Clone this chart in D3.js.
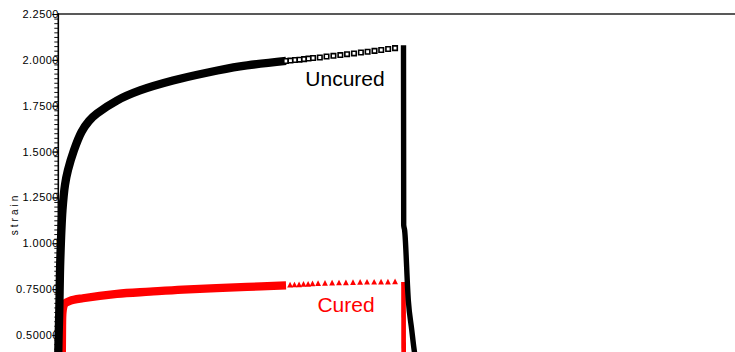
<!DOCTYPE html>
<html>
<head>
<meta charset="utf-8">
<script src="https://cdn.jsdelivr.net/npm/d3@7"></script>
<style>
  html, body { margin: 0; padding: 0; background: #fff; }
  svg { display: block; }
</style>
</head>
<body>
<svg id="chart" width="735" height="352"></svg>
<script>
// ---- strain axis ----
const strainTicks = [0.5, 0.75, 1.0, 1.25, 1.5, 1.75, 2.0, 2.25];
const strainTickLabels = ["0.50000", "0.75000", "1.0000", "1.2500", "1.5000", "1.7500", "2.0000", "2.2500"];
const strainLabel = "strain";

// ---- Uncured sample (time in s, strain) ----
// densely sampled creep, drawn as a solid band
const uncuredBandTime   = [0, 1.6, 6.8, 12, 23.4, 36.5, 52, 83.4, 122.4, 161.5, 203, 307, 427, 599, 781, 948, 1188];
const uncuredBandStrain = [0.05, 0.407, 0.636, 0.909, 1.181, 1.318, 1.399, 1.508, 1.607, 1.667, 1.707, 1.778, 1.833, 1.887, 1.931, 1.964, 1.994];
// sparser samples late in the creep step, drawn as open squares
const uncuredMarkTime   = [1188, 1211, 1235, 1258, 1282, 1305, 1329, 1364, 1399, 1435, 1471, 1506, 1542, 1578, 1613, 1649, 1684, 1720, 1756];
const uncuredMarkStrain = [1.994, 1.996, 1.999, 2.001, 2.004, 2.007, 2.010, 2.013, 2.018, 2.022, 2.026, 2.031, 2.035, 2.040, 2.044, 2.049, 2.054, 2.059, 2.064];
// unloading and recovery
const uncuredRecTime   = [1800, 1801, 1806, 1825, 1843, 1857, 1880];
const uncuredRecStrain = [2.080, 1.100, 1.070, 0.690, 0.527, 0.407, 0.300];

// ---- Cured sample ----
const curedBandTime   = [19, 20, 21, 23, 28, 36, 62, 130, 307, 480, 651, 985, 1188];
const curedBandStrain = [0.05, 0.407, 0.55, 0.62, 0.655, 0.672, 0.686, 0.700, 0.724, 0.736, 0.747, 0.762, 0.770];
const curedMarkTime   = [1209, 1232, 1256, 1279, 1303, 1326, 1355, 1391, 1428, 1464, 1500, 1537, 1574, 1610, 1647, 1683, 1719, 1756];
const curedMarkStrain = [0.771, 0.772, 0.773, 0.775, 0.776, 0.778, 0.780, 0.781, 0.782, 0.783, 0.784, 0.785, 0.786, 0.787, 0.787, 0.788, 0.788, 0.789];
const curedRecTime   = [1800, 1801];
const curedRecStrain = [0.789, 0.300];

const seriesNames = ["Uncured", "Cured"];
const seriesColors = ["#000000", "#ff0000"];

// ---- layout ----
const W = 735, H = 352;
const svg = d3.select("#chart");

const x = d3.scaleLinear().domain([0, 3600]).range([58, 749]);
const y = d3.scaleLinear().domain([0.407, 2.25]).range([352, 14]);

const zip = (t, s) => t.map((d, i) => [d, s[i]]);

svg.append("defs").append("clipPath").attr("id", "plot")
  .append("rect").attr("x", 0).attr("y", 14).attr("width", W).attr("height", H - 14);

// frame top edge
svg.append("line")
  .attr("x1", 58).attr("x2", W).attr("y1", 14).attr("y2", 14)
  .attr("stroke", "#222").attr("stroke-width", 1.4);

// minor ticks
const minor = d3.range(0.425, 2.2501, 0.025);
svg.append("g")
  .attr("transform", "translate(58.3,0)")
  .call(d3.axisLeft(y).tickValues(minor).tickSize(4).tickFormat(""))
  .call(g => g.select(".domain").remove())
  .call(g => g.selectAll(".tick line").attr("stroke", "#111").attr("stroke-width", 1));

// major ticks and labels
const yAxis = svg.append("g")
  .attr("transform", "translate(58.3,0)")
  .call(d3.axisLeft(y).tickValues(strainTicks).tickSize(6).tickPadding(-6.6)
    .tickFormat((d, i) => strainTickLabels[i]));
yAxis.selectAll(".tick line").attr("stroke", "#000").attr("stroke-width", 1);
yAxis.selectAll(".tick text")
  .attr("fill", "#000")
  .style("font-family", "'Liberation Sans', Arial, sans-serif")
  .style("font-size", "11px")
  .style("letter-spacing", "0.45px");
yAxis.select(".domain").remove();

svg.append("text")
  .attr("transform", "translate(18,214) rotate(-90)")
  .attr("text-anchor", "middle")
  .style("font-family", "'Liberation Sans', Arial, sans-serif")
  .style("font-size", "10px")
  .style("letter-spacing", "3px")
  .text(strainLabel);

// ---- curves ----
const plot = svg.append("g").attr("clip-path", "url(#plot)");
const smooth = d3.line().x(d => x(d[0])).y(d => y(d[1])).curve(d3.curveCatmullRom.alpha(0.5));
const mono = d3.line().x(d => x(d[0])).y(d => y(d[1])).curve(d3.curveMonotoneX);
const straight = d3.line().x(d => x(d[0])).y(d => y(d[1]));

// cured (drawn first, uncured sits on top)
plot.append("path").datum(zip(curedBandTime, curedBandStrain))
  .attr("d", smooth).attr("fill", "none").attr("stroke", seriesColors[1])
  .attr("stroke-width", 8.3).attr("stroke-linejoin", "round");
plot.append("path").datum(zip(curedRecTime, curedRecStrain))
  .attr("d", straight).attr("fill", "none").attr("stroke", seriesColors[1]).attr("stroke-width", 4.7);
const tri = "M0,-3.4L2.9,2.3L-2.9,2.3Z";
plot.selectAll("path.tri").data(zip(curedMarkTime, curedMarkStrain)).join("path")
  .attr("class", "tri")
  .attr("transform", d => `translate(${x(d[0])},${y(d[1])})`)
  .attr("d", tri).attr("fill", seriesColors[1]);

// uncured
plot.append("path").datum(zip(uncuredBandTime, uncuredBandStrain))
  .attr("d", smooth).attr("fill", "none").attr("stroke", seriesColors[0])
  .attr("stroke-width", 8.3).attr("stroke-linejoin", "round");
plot.append("path").datum(zip(uncuredRecTime, uncuredRecStrain))
  .attr("d", mono).attr("fill", "none").attr("stroke", seriesColors[0]).attr("stroke-width", 5.4);
plot.selectAll("path.sq").data(zip(uncuredMarkTime, uncuredMarkStrain)).join("path")
  .attr("class", "sq")
  .attr("transform", d => `translate(${x(d[0])},${y(d[1])})`)
  .attr("d", d3.symbol(d3.symbolSquare).size(20))
  .attr("fill", "#fff").attr("stroke", seriesColors[0]).attr("stroke-width", 1.6);

// axis line on top of labels
svg.append("line")
  .attr("x1", 58.3).attr("x2", 58.3).attr("y1", 13.3).attr("y2", H)
  .attr("stroke", "#000").attr("stroke-width", 1.6);

// series labels
svg.append("text")
  .attr("x", 345).attr("y", 85.5).attr("text-anchor", "middle")
  .style("font-family", "'Liberation Sans', Arial, sans-serif")
  .style("font-size", "21px").attr("fill", seriesColors[0])
  .text(seriesNames[0]);
svg.append("text")
  .attr("x", 346).attr("y", 311.5).attr("text-anchor", "middle")
  .style("font-family", "'Liberation Sans', Arial, sans-serif")
  .style("font-size", "21px").attr("fill", seriesColors[1])
  .text(seriesNames[1]);
</script>
</body>
</html>
